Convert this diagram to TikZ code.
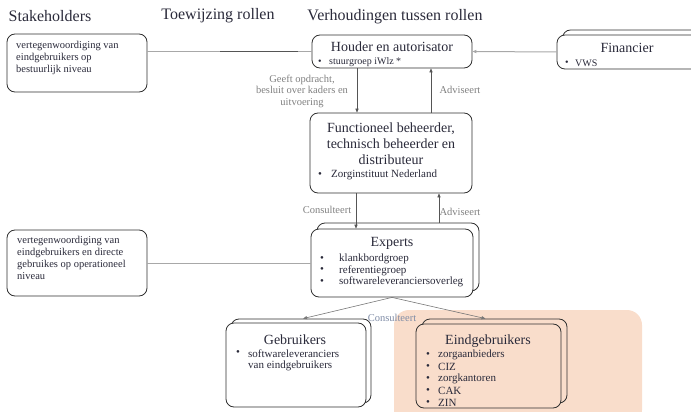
\documentclass[tikz,border=0pt]{standalone}
\usepackage{fontspec}
\setmainfont{Liberation Serif}
\usetikzlibrary{arrows.meta,calc}
\definecolor{txt}{HTML}{2A2A3A}
\definecolor{lbl}{HTML}{808080}
\definecolor{lblblue}{HTML}{7F8CA6}
\definecolor{peach}{HTML}{F9DDCB}
\definecolor{frame}{HTML}{303030}
\definecolor{lightline}{HTML}{A8A8A8}
\definecolor{darkline}{HTML}{555555}
\begin{document}
\begin{tikzpicture}[x=1pt,y=-1pt,
  box/.style={draw=frame,line width=0.8pt,rounded corners=8pt,fill=white,inner sep=0pt},
  title/.style={font=\fontsize{16}{19}\selectfont,text=txt,inner sep=0pt},
  boxtitle/.style={font=\fontsize{14}{16.5}\selectfont,text=txt,inner sep=0pt,align=center},
  boxtext/.style={font=\fontsize{10.5}{12}\selectfont,text=txt,inner sep=0pt,align=left,anchor=north west},
  bul/.style={font=\fontsize{11}{11.7}\selectfont,text=txt,inner sep=0pt,anchor=west},
  bulsmall/.style={font=\fontsize{10}{11}\selectfont,text=txt,inner sep=0pt,anchor=west},
  lab/.style={font=\fontsize{10.5}{11.5}\selectfont,text=lbl,inner sep=0pt,align=center},
  arr/.style={draw=darkline,line width=0.6pt,-{Triangle[length=4pt,width=3.2pt]}},
  conn/.style={draw=lightline,line width=1pt}]
\useasboundingbox (0,0) rectangle (691,412);
% peach background
\fill[peach,rounded corners=15pt] (394,310) rectangle (642,425);
% titles
\node[title] (t1) at (50,16) {Stakeholders};
\node[title] (t2) at (218,16) {Toewijzing rollen};
\node[title] (t3) at (395,17) {Verhoudingen tussen rollen};
% stakeholder boxes
\node[box,minimum width=140pt,minimum height=58pt] (b1) at (77,63) {};
\node[boxtext] (b1t) at (16,41) {vertegenwoordiging van\\eindgebruikers op\\bestuurlijk niveau};
\node[box,minimum width=140pt,minimum height=66pt] (b2) at (77,263) {};
\node[boxtext] (b2t) at (17,236) {vertegenwoordiging van\\eindgebruikers en directe\\gebruikes op operationeel\\niveau};
% houder
\node[box,minimum width=160pt,minimum height=33pt] (houder) at (392,51.5) {};
\node[boxtitle] (houdert) at (392,47) {Houder en autorisator};
\node[bulsmall] (hb1) at (318,62) {•};
\node[bulsmall] (hb1t) at (329,62) {stuurgroep iWlz *};
% financier
\node[box,minimum width=145pt,minimum height=34pt] (finsh) at (635,47) {};
\node[box,minimum width=145pt,minimum height=34pt] (fin) at (629.5,52) {};
\node[boxtitle] (fint) at (627,48) {Financier};
\node[bulsmall] (fb1) at (565,63) {•};
\node[bulsmall] (fb1t) at (575,63) {VWS};
% functioneel
\node[box,minimum width=162pt,minimum height=80pt] (func) at (391,153) {};
\node[boxtitle,font=\fontsize{14}{16}\selectfont] (funct) at (391,144) {Functioneel beheerder,\\technisch beheerder en\\distributeur};
\node[bul] (zb1) at (318,175) {•};
\node[bul] (zb1t) at (331,175) {Zorginstituut Nederland};
% experts
\node[box,minimum width=162pt,minimum height=68pt] (expsh) at (398,257) {};
\node[box,minimum width=162pt,minimum height=68pt] (exp) at (392,263) {};
\node[boxtitle] (expt) at (392,243) {Experts};
\node[bul] (eb1) at (320,259) {•};
\node[bul] (eb1t) at (339,259) {klankbordgroep};
\node[bul] (eb2) at (320,270.5) {•};
\node[bul] (eb2t) at (339,270.5) {referentiegroep};
\node[bul] (eb3) at (320,282) {•};
\node[bul] (eb3t) at (339,282) {softwareleveranciersoverleg};
% gebruikers
\node[box,minimum width=140pt,minimum height=84pt] (gebsh) at (301,361) {};
\node[box,minimum width=140pt,minimum height=84pt] (geb) at (296,365) {};
\node[boxtitle] (gebt) at (295,340) {Gebruikers};
\node[bul] (gb1) at (236,353.5) {•};
\node[bul] (gb1t) at (248,353.5) {softwareleveranciers};
\node[bul] (gb2t) at (248,366) {van eindgebruikers};
% eindgebruikers
\node[box,fill=peach,minimum width=145pt,minimum height=84pt] (eindsh) at (494.5,361) {};
\node[box,fill=peach,minimum width=145pt,minimum height=84pt] (eind) at (488.5,366) {};
\node[boxtitle] (eindt) at (488,341) {Eindgebruikers};
\foreach \i/\t in {0/zorgaanbieders,1/CIZ,2/zorgkantoren,3/CAK,4/ZIN}{
  \node[bul] (db\i) at (426,355+12*\i) {•};
  \node[bul] (dbt\i) at (438,355+12*\i) {\t};
}
% connectors
\draw[conn] (b1.east |- houder.west) -- (houder.west);
\draw[draw=darkline,line width=1pt] ($(b1.east |- houder.west)+(73,0)$) -- ($(houder.west)+(-14,0)$);
\draw[conn,-{Triangle[length=4pt,width=3.2pt]}] (fin.west) -- (houder.east);
\draw[conn] (b2.east) -- (exp.west);
\draw[arr] ([xshift=-35pt]houder.south) -- ([xshift=-35pt]houder.south |- func.north);
\draw[arr] ([xshift=40pt]func.north) -- ([xshift=40pt]func.north |- houder.south);
\draw[arr] ([xshift=-35pt]func.south) -- ([xshift=-35pt]func.south |- exp.north);
\draw[arr] ([xshift=41pt]expsh.north) -- ([xshift=41pt]expsh.north |- func.south);
\coordinate (ebot) at (exp.south);
\draw[arr,draw=darkline!80] (ebot) -- ([xshift=2pt]gebsh.north);
\draw[arr,draw=darkline!80] (ebot) -- ([xshift=-9pt]eindsh.north);
% labels
\node[lab] (l1) at (302,91) {Geeft opdracht,\\besluit over kaders en\\uitvoering};
\node[lab] (l2) at (460,90) {Adviseert};
\node[lab] (l3) at (327,210) {Consulteert};
\node[lab] (l4) at (460,212) {Adviseert};
\node[lab,text=lblblue] (l5) at (392,318) {Consulteert};
\end{tikzpicture}
\end{document}
